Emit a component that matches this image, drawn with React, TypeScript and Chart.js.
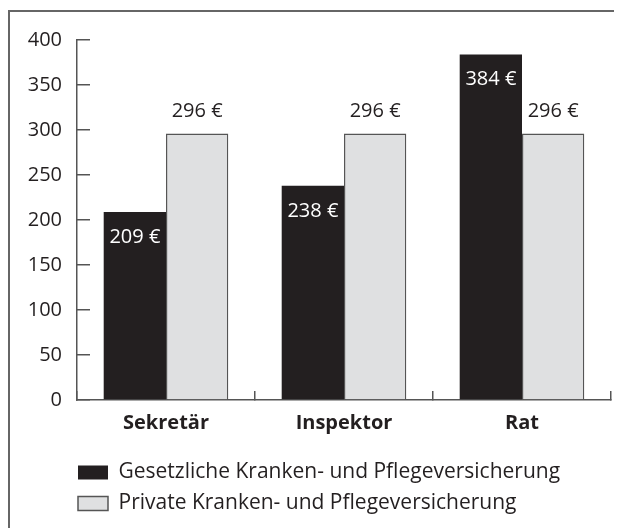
import React, { useEffect, useRef } from "react";
import { Chart, registerables } from "chart.js";

Chart.register(...registerables);

const categories = ["Sekretär", "Inspektor", "Rat"];
const gesetzlich = [209, 238, 384];
const privat = [296, 296, 296];
const seriesNames = [
  "Gesetzliche Kranken- und Pflegeversicherung",
  "Private Kranken- und Pflegeversicherung",
];
const yMin = 0;
const yMax = 400;
const yStep = 50;
const currency = "€";

const FONT = "'Open Sans', 'Noto Sans', sans-serif";
const DARK = "#231f20";
const LIGHT = "#dfe0e1";
const AXIS = "#555555";
const LEGEND_SHIFT = 58;

const valueLabels = {
  id: "valueLabels",
  afterDatasetsDraw(chart: any) {
    const ctx = chart.ctx;
    ctx.save();
    ctx.font = `20px ${FONT}`;
    ctx.textAlign = "center";
    ctx.textBaseline = "middle";
    chart.data.datasets.forEach((ds: any, di: number) => {
      const meta = chart.getDatasetMeta(di);
      meta.data.forEach((bar: any, i: number) => {
        const txt = `${ds.data[i]} ${currency}`;
        if (di === 0) {
          ctx.fillStyle = "#ffffff";
          ctx.fillText(txt, bar.x, bar.y + 25);
        } else {
          ctx.fillStyle = DARK;
          ctx.fillText(txt, bar.x, bar.y - 22);
        }
      });
    });
    ctx.restore();
  },
};

const legendIndent = {
  id: "legendIndent",
  afterLayout(chart: any) {
    if (chart.legend) {
      chart.legend.left += LEGEND_SHIFT;
      chart.legend.right += LEGEND_SHIFT;
    }
  },
};

export default function App() {
  const ref = useRef<HTMLCanvasElement>(null);
  useEffect(() => {
    document.documentElement.style.overflow = "hidden";
    const chart = new Chart(ref.current!, {
      type: "bar",
      data: {
        labels: categories,
        datasets: [
          {
            label: seriesNames[0],
            data: gesetzlich,
            backgroundColor: DARK,
            borderColor: DARK,
            borderWidth: 0,
            categoryPercentage: 0.7,
            barPercentage: 1.0,
          },
          {
            label: seriesNames[1],
            data: privat,
            backgroundColor: LIGHT,
            borderColor: AXIS,
            borderWidth: 1.5,
            categoryPercentage: 0.7,
            barPercentage: 1.0,
          },
        ],
      },
      options: {
        animation: false,
        responsive: true,
        maintainAspectRatio: false,
        layout: { padding: { left: 0, top: 28, right: 11, bottom: 6 } },
        plugins: {
          tooltip: { enabled: false },
          legend: {
            position: "bottom",
            align: "start",
            labels: {
              boxWidth: 30,
              boxHeight: 14,
              padding: 10,
              color: DARK,
              font: { family: FONT, size: 21 },
            },
          },
        },
        scales: {
          x: {
            offset: true,
            grid: {
              offset: true,
              drawOnChartArea: false,
              drawTicks: true,
              tickLength: -9,
              color: AXIS,
              lineWidth: 1.5,
            },
            border: { display: true, color: AXIS, width: 1.5 },
            ticks: {
              color: DARK,
              padding: 20,
              font: { family: FONT, size: 20, weight: "bold" },
            },
            afterFit: (s: any) => {
              s.height = 52;
            },
          },
          y: {
            min: yMin,
            max: yMax,
            grid: {
              drawOnChartArea: false,
              drawTicks: true,
              tickLength: -13,
              color: AXIS,
              lineWidth: 1.5,
            },
            border: { display: true, color: AXIS, width: 1.5 },
            ticks: {
              stepSize: yStep,
              color: DARK,
              padding: 28,
              font: { family: FONT, size: 20 },
            },
            afterFit: (s: any) => {
              s.width = 67;
              s.paddingTop = 0;
              s.paddingBottom = 0;
            },
          },
        },
      },
      plugins: [valueLabels, legendIndent],
    } as any);
    return () => chart.destroy();
  }, []);
  return (
    <div
      style={{
        position: "relative",
        top: 2,
        width: 612,
        borderTop: "2px solid #666",
        borderLeft: "2px solid #666",
      }}
    >
      <div style={{ position: "relative", height: 518, width: 612 }}>
        <canvas ref={ref} />
      </div>
    </div>
  );
}
